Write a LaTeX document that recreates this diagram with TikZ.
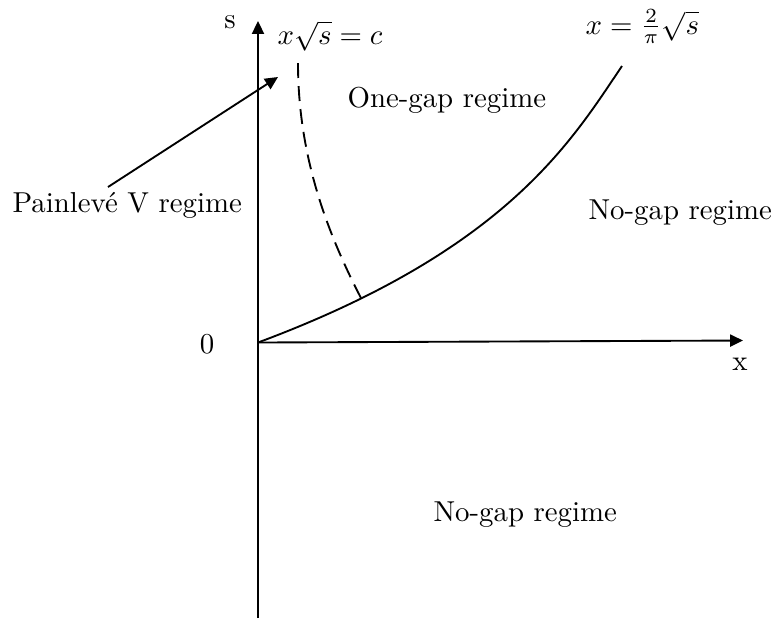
\documentclass[tikz,border=0pt]{standalone}
\usetikzlibrary{arrows.meta}
\begin{document}
\begin{tikzpicture}[x=0.347pt,y=-0.347pt,
  axis/.style={line width=0.65pt,-{Triangle[length=4.5pt,width=4.2pt]}},
  curve/.style={line width=0.65pt},
  lbl/.style={inner sep=0pt,anchor=base west,font=\fontsize{10}{12}\selectfont}]
\useasboundingbox (0,0) rectangle (775,620);
\coordinate (O) at (258,342.5);
\coordinate (ybot) at (258,618);
\coordinate (ytop) at (258,21);
\coordinate (xend) at (743,340.5);
\coordinate (solidend) at (622,66);
\coordinate (dtop) at (298,63);
\coordinate (dbot) at (362,300);
\draw[axis] (ybot) -- (ytop);
\draw[axis] (O) -- (xend);
\draw[curve] (O) .. controls (508,249.5) and (572,140) .. (solidend);
\draw[curve,dash pattern=on 5.2pt off 2.8pt] (dtop) .. controls (298,163) and (332,242) .. (dbot);
\coordinate (astart) at (108,187);
\coordinate (aend) at (278,77);
\draw[line width=0.65pt,-{Triangle[length=4.5pt,width=4.2pt]}] (astart) -- (aend);
\node[lbl,anchor=base] (s) at (230,28) {s};
\node[lbl,anchor=base] (x) at (740,370) {x};
\node[lbl,anchor=base] (zero) at (207,353) {0};
\node[lbl] (c1) at (277,44) {$x\sqrt{s}=c$};
\node[lbl] (c2) at (585,34) {$x=\frac{2}{\pi}\sqrt{s}$};
\node[lbl] (one) at (347,107) {One-gap regime};
\node[lbl] (ng1) at (588,219) {No-gap regime};
\node[lbl] (ng2) at (433,521) {No-gap regime};
\node[lbl] (pv) at (12,212) {Painlev\'e V regime};
\end{tikzpicture}
\end{document}
